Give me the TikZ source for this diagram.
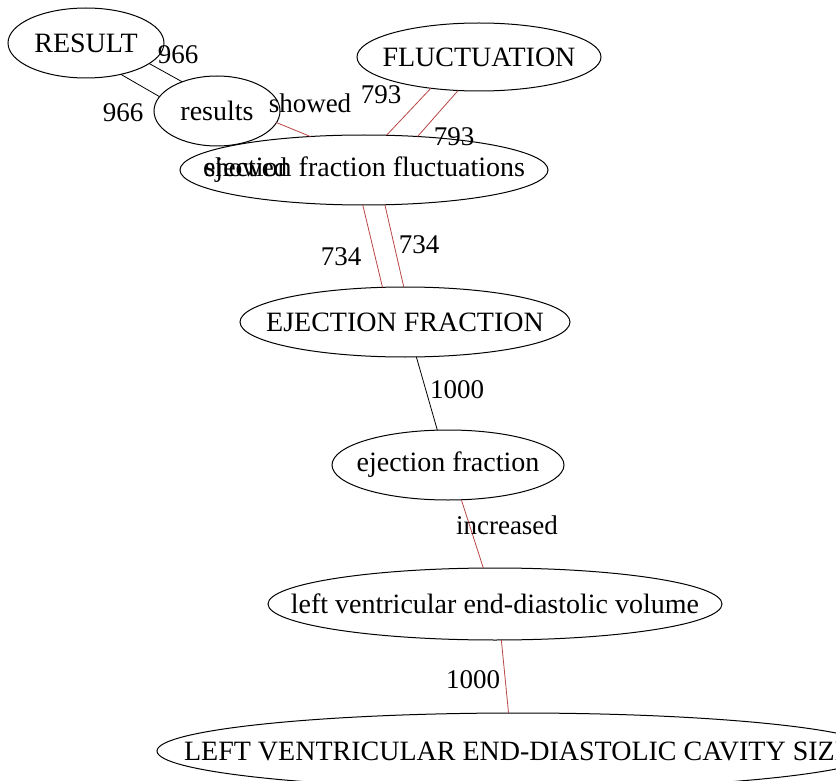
\documentclass[tikz,border=0pt]{standalone}
\usepackage{fontspec}
\setmainfont{Liberation Serif}
\usetikzlibrary{shapes.geometric}
\definecolor{linkred}{RGB}{185,70,70}
\begin{document}
\begin{tikzpicture}[x=1pt,y=1pt,
  ent/.style={draw, ellipse, inner sep=0pt, outer sep=0pt, line width=1pt, font=\fontsize{28}{32}\selectfont},
  lbl/.style={inner sep=0pt, font=\fontsize{27}{32}\selectfont},
  redl/.style={draw=linkred, line width=0.8pt},
  blkl/.style={draw=black, line width=0.8pt}]
\useasboundingbox (0,0) rectangle (836,-781);
\clip (0,0) rectangle (836,-781);
\fill[white] (0,0) rectangle (836,-781);

\node[ent, minimum width=156pt, minimum height=70pt] (RESULT) at (86,-43) {\makebox[0pt]{RESULT}};
\node[ent, minimum width=126pt, minimum height=70pt] (results) at (217,-111) {\makebox[0pt]{results}};
\node[ent, minimum width=244pt, minimum height=68pt] (FL) at (479,-57) {\makebox[0pt]{FLUCTUATION}};
\node[ent, minimum width=368pt, minimum height=70pt] (eff) at (364,-170) {\makebox[0pt]{ejection fraction fluctuations}};
\node[ent, minimum width=330pt, minimum height=70pt] (EF) at (405,-322) {\makebox[0pt]{EJECTION FRACTION}};
\node[ent, minimum width=232pt, minimum height=70pt] (ef) at (448,-465) {\makebox[0pt]{ejection fraction}};
\node[ent, minimum width=454pt, minimum height=72pt] (lved) at (495,-604) {\makebox[0pt]{left ventricular end-diastolic volume}};
\node[ent, minimum width=722pt, minimum height=76pt] (cav) at (518,-751) {\makebox[0pt]{LEFT VENTRICULAR END-DIASTOLIC CAVITY SIZE}};

\draw[blkl] (RESULT.-18) -- (results.140);
\draw[blkl] (RESULT.-42) -- (results.166);
\draw[redl] (results.-11) -- (eff.148);
\draw[redl] (FL.-147) -- (eff.57);
\draw[redl] (FL.-122) -- (eff.32);
\draw[redl] (eff.-92) -- (EF.123);
\draw[redl] (eff.-59) -- (EF.92);
\draw[blkl] (EF.-72) -- (ef.107);
\draw[redl] (ef.-69) -- (lved.108);
\draw[redl] (lved.-80) -- (cav.104);

\node[lbl] (l1) at (178,-55) {966};
\node[lbl] (l2) at (123,-113) {966};
\node[lbl] (l3) at (310,-103) {showed};
\node[lbl] (l4) at (246,-167) {showed};
\node[lbl] (l5) at (381,-95) {793};
\node[lbl] (l6) at (454,-137) {793};
\node[lbl] (l7) at (341,-257) {734};
\node[lbl] (l8) at (419,-245) {734};
\node[lbl] (l9) at (457,-390) {1000};
\node[lbl] (l10) at (507,-525) {increased};
\node[lbl] (l11) at (473,-680) {1000};
\end{tikzpicture}
\end{document}
